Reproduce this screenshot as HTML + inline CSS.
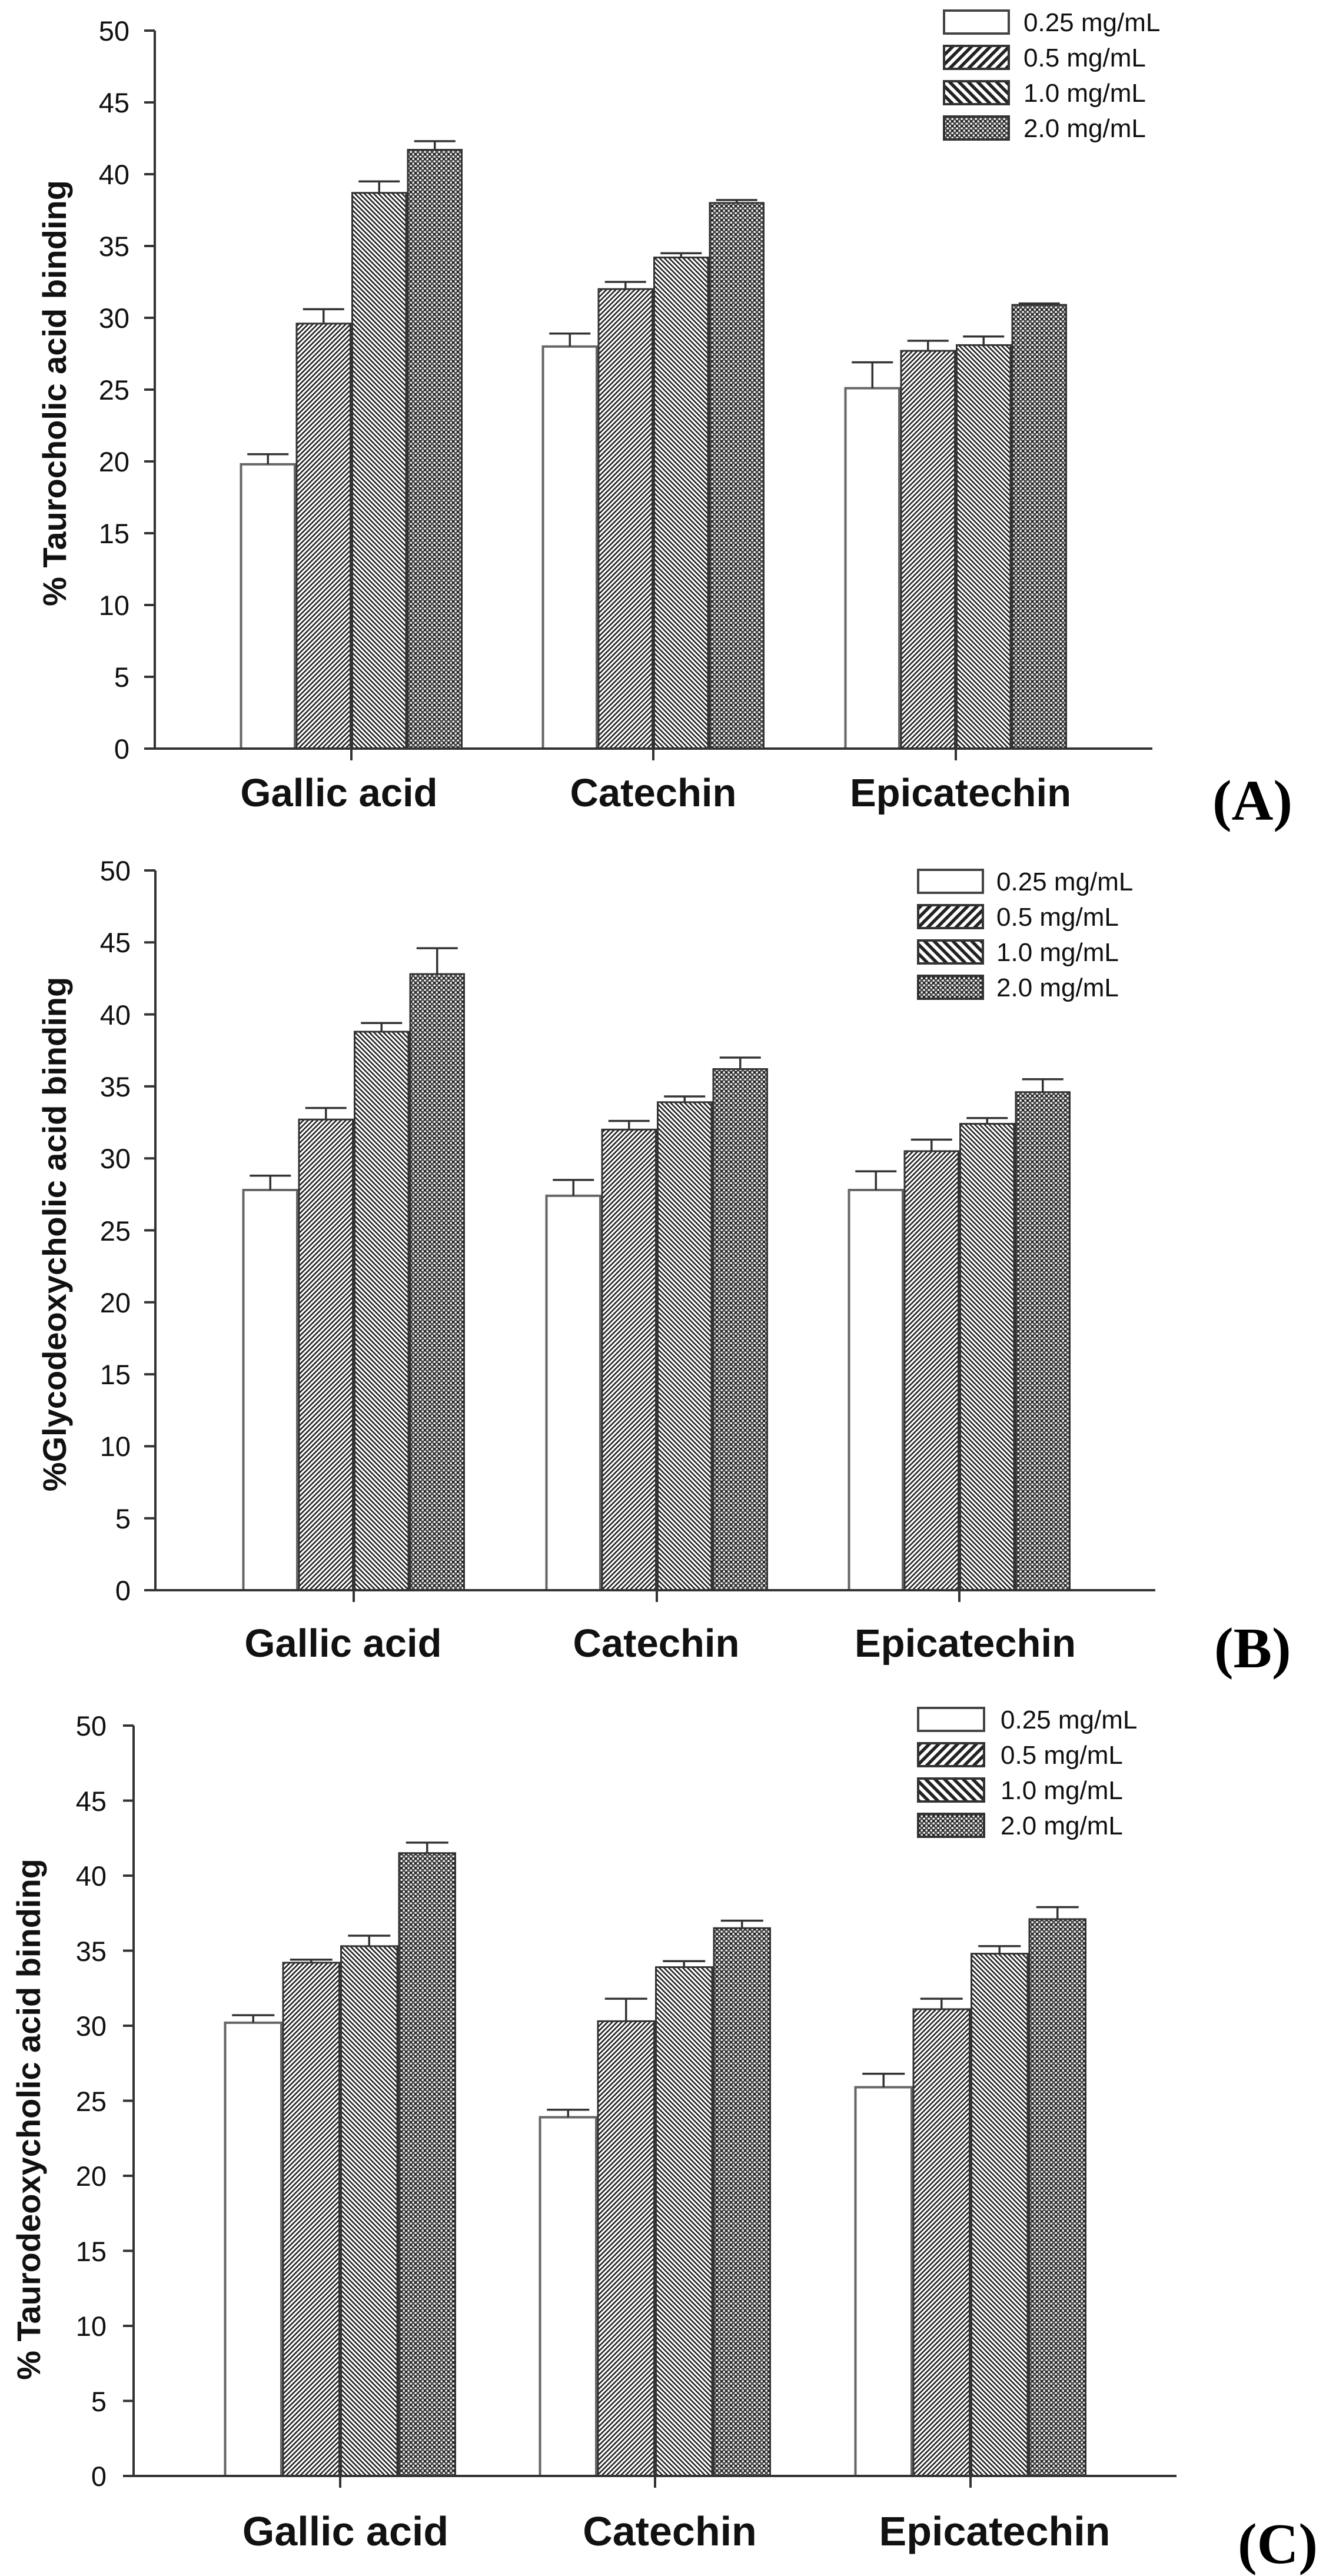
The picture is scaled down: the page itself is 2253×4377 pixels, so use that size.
<!DOCTYPE html>
<html>
<head>
<meta charset="utf-8">
<style>
  html, body { margin:0; padding:0; background:#fff; }
  svg { display:block; }
  .tk { font-family:"Liberation Sans", Arial, sans-serif; font-size:47px; fill:#111; text-anchor:end; }
  .yl { font-family:"Liberation Sans", Arial, sans-serif; font-size:56px; font-weight:bold; fill:#111; text-anchor:middle; }
  .gl { font-family:"Liberation Sans", Arial, sans-serif; font-size:67px; font-weight:bold; fill:#111; text-anchor:middle; }
  .gl2 { font-family:"Liberation Sans", Arial, sans-serif; font-size:70px; font-weight:bold; fill:#111; text-anchor:middle; }
  .lg { font-family:"Liberation Sans", Arial, sans-serif; font-size:44px; fill:#111; }
  .pl { font-family:"Liberation Serif", "Times New Roman", serif; font-size:98px; font-weight:bold; fill:#000; }
</style>
</head>
<body>
<svg xmlns="http://www.w3.org/2000/svg" width="2253" height="4377" viewBox="0 0 2253 4377">
<defs>
  <pattern id="h1" patternUnits="userSpaceOnUse" width="5.66" height="5.66" patternTransform="rotate(45)">
    <rect width="5.66" height="5.66" fill="#fff"/><rect width="2.5" height="5.66" fill="#1e1e1e"/>
  </pattern>
  <pattern id="h2" patternUnits="userSpaceOnUse" width="5.66" height="5.66" patternTransform="rotate(-45)">
    <rect width="5.66" height="5.66" fill="#fff"/><rect width="2.5" height="5.66" fill="#1e1e1e"/>
  </pattern>
  <pattern id="ck" patternUnits="userSpaceOnUse" width="8" height="8">
    <rect width="8" height="8" fill="#262626"/>
    <rect x="0.5" y="0.5" width="3.3" height="3.3" fill="#fff"/>
    <rect x="4.5" y="4.5" width="3.3" height="3.3" fill="#fff"/>
    <rect x="4.5" y="0.5" width="3.3" height="3.3" fill="#555"/>
  </pattern>
  <pattern id="lh1" patternUnits="userSpaceOnUse" width="11.3" height="11.3" patternTransform="rotate(45)">
    <rect width="11.3" height="11.3" fill="#fff"/><rect width="5.5" height="11.3" fill="#222"/>
  </pattern>
  <pattern id="lh2" patternUnits="userSpaceOnUse" width="11.3" height="11.3" patternTransform="rotate(-45)">
    <rect width="11.3" height="11.3" fill="#fff"/><rect width="5.5" height="11.3" fill="#222"/>
  </pattern>
</defs>
<rect width="2253" height="4377" fill="#fff"/>

<!-- ================= PANEL A ================= -->
<g>
  <g stroke="#666" stroke-width="4" fill="#fff">
    <rect x="409.5" y="788.9" width="91.5" height="483.1"/>
    <rect x="922.5" y="588.8" width="91.5" height="683.2"/>
    <rect x="1436.5" y="659.6" width="91.5" height="612.4"/>
  </g>
  <g stroke="#333" stroke-width="3">
    <rect x="504" y="549.8" width="91.5" height="722.2" fill="url(#h1)"/>
    <rect x="598.5" y="327.7" width="91.5" height="944.3" fill="url(#h2)"/>
    <rect x="693" y="254.5" width="91.5" height="1017.5" fill="url(#ck)"/>
    <rect x="1017" y="491.2" width="91.5" height="780.8" fill="url(#h1)"/>
    <rect x="1111.5" y="437.5" width="91.5" height="834.5" fill="url(#h2)"/>
    <rect x="1206" y="344.8" width="91.5" height="927.2" fill="url(#ck)"/>
    <rect x="1531" y="596.1" width="91.5" height="675.9" fill="url(#h1)"/>
    <rect x="1625.5" y="586.4" width="91.5" height="685.6" fill="url(#h2)"/>
    <rect x="1720" y="518" width="91.5" height="754" fill="url(#ck)"/>
  </g>
  <path fill="none" stroke="#333" stroke-width="3.5" d="
    M455.25,788.9V771.8M420.25,771.8H490.25
    M549.75,549.8V525.4M514.75,525.4H584.75
    M644.25,327.7V308.2M609.25,308.2H679.25
    M738.75,254.5V239.9M703.75,239.9H773.75
    M968.25,588.8V566.8M933.25,566.8H1003.25
    M1062.75,491.2V479M1027.75,479H1097.75
    M1157.25,437.5V430.2M1122.25,430.2H1192.25
    M1251.75,344.8V339.9M1216.75,339.9H1286.75
    M1482.25,659.6V615.6M1447.25,615.6H1517.25
    M1576.75,596.1V579M1541.75,579H1611.75
    M1671.25,586.4V571.7M1636.25,571.7H1706.25
    M1765.75,518V515.6M1730.75,515.6H1800.75"/>
  <path fill="none" stroke="#333" stroke-width="4" d="
    M263,52V1272 M245,1272H1958
    M245,52H263 M245,174H263 M245,296H263 M245,418H263 M245,540H263 M245,662H263
    M245,784H263 M245,906H263 M245,1028H263 M245,1150H263
    M597,1272V1292 M1110,1272V1292 M1624,1272V1292"/>
  <g class="tk">
    <text x="220" y="69">50</text><text x="220" y="191">45</text><text x="220" y="313">40</text>
    <text x="220" y="435">35</text><text x="220" y="557">30</text><text x="220" y="679">25</text>
    <text x="220" y="801">20</text><text x="220" y="923">15</text><text x="220" y="1045">10</text>
    <text x="220" y="1167">5</text><text x="220" y="1289">0</text>
  </g>
  <text class="yl" transform="translate(112,668) rotate(-90)">% Taurocholic acid binding</text>
  <text class="gl" x="576" y="1370">Gallic acid</text>
  <text class="gl" x="1110" y="1370">Catechin</text>
  <text class="gl" x="1632" y="1370">Epicatechin</text>
  <rect x="1604" y="18" width="110" height="39" fill="#fff" stroke="#444" stroke-width="4"/>
  <rect x="1604" y="78" width="110" height="39" fill="url(#lh1)" stroke="#333" stroke-width="4"/>
  <rect x="1604" y="138" width="110" height="39" fill="url(#lh2)" stroke="#333" stroke-width="4"/>
  <rect x="1604" y="198" width="110" height="39" fill="url(#ck)" stroke="#333" stroke-width="4"/>
  <text class="lg" x="1739" y="53">0.25 mg/mL</text>
  <text class="lg" x="1739" y="113">0.5 mg/mL</text>
  <text class="lg" x="1739" y="173">1.0 mg/mL</text>
  <text class="lg" x="1739" y="233">2.0 mg/mL</text>
  <text class="pl" x="2060" y="1393">(A)</text>
</g>

<!-- ================= PANEL B ================= -->
<g>
  <g stroke="#666" stroke-width="4" fill="#fff">
    <rect x="413.5" y="2022" width="91.5" height="680"/>
    <rect x="928.5" y="2031.8" width="91.5" height="670.2"/>
    <rect x="1442.5" y="2022" width="91.5" height="680"/>
  </g>
  <g stroke="#333" stroke-width="3">
    <rect x="508" y="1902.2" width="91.5" height="799.8" fill="url(#h1)"/>
    <rect x="602.5" y="1753" width="91.5" height="949" fill="url(#h2)"/>
    <rect x="697" y="1655.1" width="91.5" height="1046.9" fill="url(#ck)"/>
    <rect x="1023" y="1919.3" width="91.5" height="782.7" fill="url(#h1)"/>
    <rect x="1117.5" y="1872.8" width="91.5" height="829.2" fill="url(#h2)"/>
    <rect x="1212" y="1816.5" width="91.5" height="885.5" fill="url(#ck)"/>
    <rect x="1537" y="1956" width="91.5" height="746" fill="url(#h1)"/>
    <rect x="1631.5" y="1909.5" width="91.5" height="792.5" fill="url(#h2)"/>
    <rect x="1726" y="1855.7" width="91.5" height="846.3" fill="url(#ck)"/>
  </g>
  <path fill="none" stroke="#333" stroke-width="3.5" d="
    M459.25,2022V1997.6M424.25,1997.6H494.25
    M553.75,1902.2V1882.6M518.75,1882.6H588.75
    M648.25,1753V1738.3M613.25,1738.3H683.25
    M742.75,1655.1V1611.1M707.75,1611.1H777.75
    M974.25,2031.8V2004.9M939.25,2004.9H1009.25
    M1068.75,1919.3V1904.6M1033.75,1904.6H1103.75
    M1163.25,1872.8V1863M1128.25,1863H1198.25
    M1257.75,1816.5V1797M1222.75,1797H1292.75
    M1488.25,2022V1990.2M1453.25,1990.2H1523.25
    M1582.75,1956V1936.4M1547.75,1936.4H1617.75
    M1677.25,1909.5V1899.7M1642.25,1899.7H1712.25
    M1771.75,1855.7V1833.7M1736.75,1833.7H1806.75"/>
  <path fill="none" stroke="#333" stroke-width="4" d="
    M264,1479V2702 M245,2702H1963
    M245,1479H264 M245,1601.3H264 M245,1723.6H264 M245,1845.9H264 M245,1968.2H264 M245,2090.5H264
    M245,2212.8H264 M245,2335.1H264 M245,2457.4H264 M245,2579.7H264
    M601,2702V2722 M1116,2702V2722 M1630,2702V2722"/>
  <g class="tk">
    <text x="222" y="1496">50</text><text x="222" y="1618">45</text><text x="222" y="1741">40</text>
    <text x="222" y="1863">35</text><text x="222" y="1985">30</text><text x="222" y="2108">25</text>
    <text x="222" y="2230">20</text><text x="222" y="2352">15</text><text x="222" y="2474">10</text>
    <text x="222" y="2597">5</text><text x="222" y="2719">0</text>
  </g>
  <text class="yl" transform="translate(112,2097) rotate(-90)">%Glycodeoxycholic acid binding</text>
  <text class="gl" x="583" y="2815">Gallic acid</text>
  <text class="gl" x="1115" y="2815">Catechin</text>
  <text class="gl" x="1640" y="2815">Epicatechin</text>
  <rect x="1560" y="1478" width="110" height="39" fill="#fff" stroke="#444" stroke-width="4"/>
  <rect x="1560" y="1538" width="110" height="39" fill="url(#lh1)" stroke="#333" stroke-width="4"/>
  <rect x="1560" y="1598" width="110" height="39" fill="url(#lh2)" stroke="#333" stroke-width="4"/>
  <rect x="1560" y="1658" width="110" height="39" fill="url(#ck)" stroke="#333" stroke-width="4"/>
  <text class="lg" x="1693" y="1513">0.25 mg/mL</text>
  <text class="lg" x="1693" y="1573">0.5 mg/mL</text>
  <text class="lg" x="1693" y="1633">1.0 mg/mL</text>
  <text class="lg" x="1693" y="1693">2.0 mg/mL</text>
  <text class="pl" x="2063" y="2833">(B)</text>
</g>

<!-- ================= PANEL C ================= -->
<g>
  <g stroke="#666" stroke-width="4" fill="#fff">
    <rect x="382.5" y="3436.9" width="95.5" height="770.1"/>
    <rect x="917.5" y="3597.5" width="95.5" height="609.5"/>
    <rect x="1453.5" y="3546.5" width="95.5" height="660.5"/>
  </g>
  <g stroke="#333" stroke-width="3">
    <rect x="481" y="3334.9" width="95.5" height="872.1" fill="url(#h1)"/>
    <rect x="579.5" y="3306.8" width="95.5" height="900.2" fill="url(#h2)"/>
    <rect x="678" y="3148.7" width="95.5" height="1058.3" fill="url(#ck)"/>
    <rect x="1016" y="3434.3" width="95.5" height="772.7" fill="url(#h1)"/>
    <rect x="1114.5" y="3342.5" width="95.5" height="864.5" fill="url(#h2)"/>
    <rect x="1213" y="3276.2" width="95.5" height="930.8" fill="url(#ck)"/>
    <rect x="1552" y="3413.9" width="95.5" height="793.1" fill="url(#h1)"/>
    <rect x="1650.5" y="3319.6" width="95.5" height="887.4" fill="url(#h2)"/>
    <rect x="1749" y="3260.9" width="95.5" height="946.1" fill="url(#ck)"/>
  </g>
  <path fill="none" stroke="#333" stroke-width="3.5" d="
    M430.25,3436.9V3424.1M394.25,3424.1H466.25
    M528.75,3334.9V3329.8M492.75,3329.8H564.75
    M627.25,3306.8V3289M591.25,3289H663.25
    M725.75,3148.7V3130.9M689.75,3130.9H761.75
    M965.25,3597.5V3584.8M929.25,3584.8H1001.25
    M1063.75,3434.3V3396.1M1027.75,3396.1H1099.75
    M1162.25,3342.5V3332.3M1126.25,3332.3H1198.25
    M1260.75,3276.2V3263.5M1224.75,3263.5H1296.75
    M1501.25,3546.5V3523.6M1465.25,3523.6H1537.25
    M1599.75,3413.9V3396.1M1563.75,3396.1H1635.75
    M1698.25,3319.6V3306.8M1662.25,3306.8H1734.25
    M1796.75,3260.9V3240.5M1760.75,3240.5H1832.75"/>
  <path fill="none" stroke="#333" stroke-width="4" d="
    M227,2932V4207 M209,4207H1999
    M209,2932H227 M209,3059.5H227 M209,3187H227 M209,3314.5H227 M209,3442H227 M209,3569.5H227
    M209,3697H227 M209,3824.5H227 M209,3952H227 M209,4079.5H227
    M578,4207V4227 M1113,4207V4227 M1649,4207V4227"/>
  <g class="tk">
    <text x="181" y="2949">50</text><text x="181" y="3077">45</text><text x="181" y="3204">40</text>
    <text x="181" y="3332">35</text><text x="181" y="3459">30</text><text x="181" y="3587">25</text>
    <text x="181" y="3714">20</text><text x="181" y="3842">15</text><text x="181" y="3969">10</text>
    <text x="181" y="4097">5</text><text x="181" y="4224">0</text>
  </g>
  <text class="yl" transform="translate(68,3601) rotate(-90)">% Taurodeoxycholic acid binding</text>
  <text class="gl2" x="587" y="4325">Gallic acid</text>
  <text class="gl2" x="1138" y="4325">Catechin</text>
  <text class="gl2" x="1690" y="4325">Epicatechin</text>
  <rect x="1560" y="2902" width="112" height="39" fill="#fff" stroke="#444" stroke-width="4"/>
  <rect x="1560" y="2962" width="112" height="39" fill="url(#lh1)" stroke="#333" stroke-width="4"/>
  <rect x="1560" y="3022" width="112" height="39" fill="url(#lh2)" stroke="#333" stroke-width="4"/>
  <rect x="1560" y="3082" width="112" height="39" fill="url(#ck)" stroke="#333" stroke-width="4"/>
  <text class="lg" x="1700" y="2937">0.25 mg/mL</text>
  <text class="lg" x="1700" y="2997">0.5 mg/mL</text>
  <text class="lg" x="1700" y="3057">1.0 mg/mL</text>
  <text class="lg" x="1700" y="3117">2.0 mg/mL</text>
  <text class="pl" x="2103" y="4355">(C)</text>
</g>
</svg>
</body>
</html>
